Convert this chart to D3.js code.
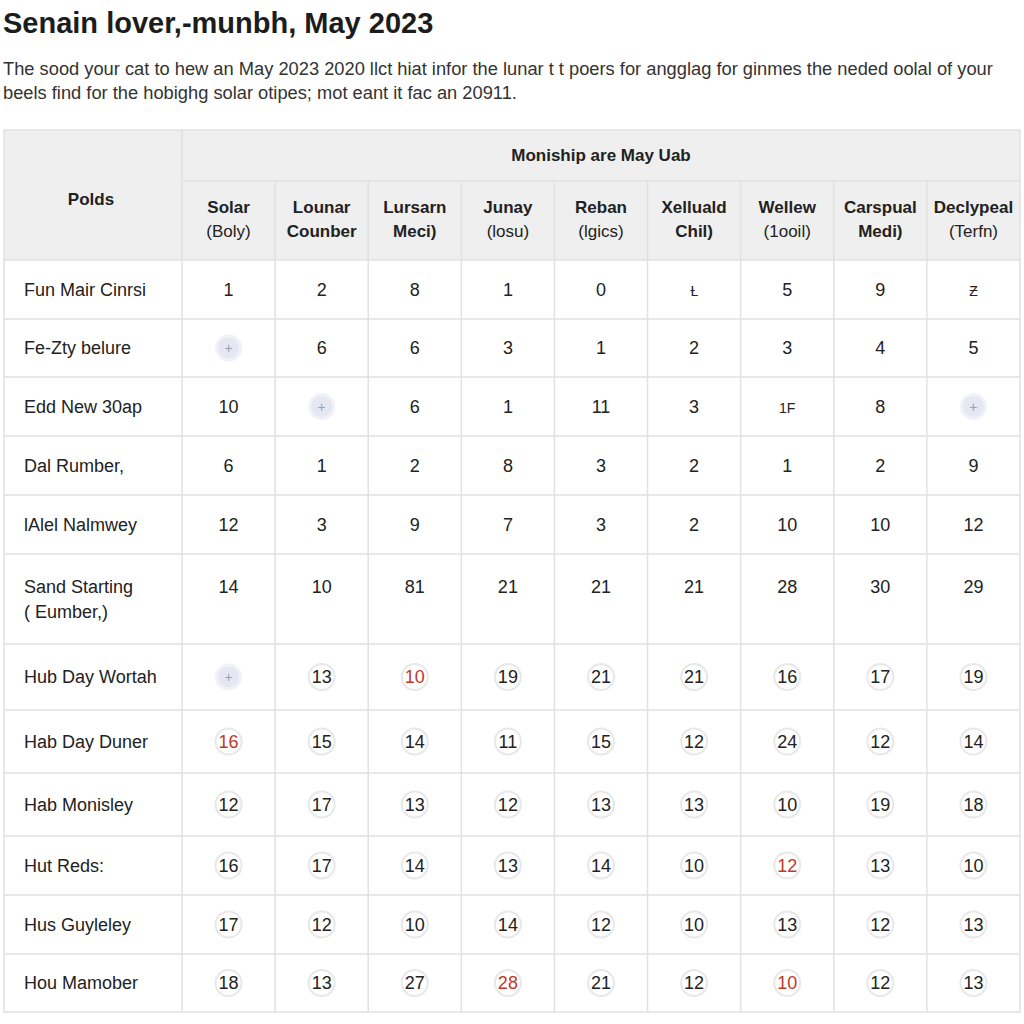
<!DOCTYPE html>
<html>
<head>
<meta charset="utf-8">
<script src="https://cdn.jsdelivr.net/npm/d3@7"></script>
<style>
  html, body { margin: 0; padding: 0; background: #fff; }
  svg { display: block; font-family: "Liberation Sans", Arial, sans-serif; }
</style>
</head>
<body>
<svg id="chart" width="1024" height="1024"></svg>
<script>
// ---- data ----
const title = 'Senain lover,-munbh, May 2023';
const subtitleLines = [
    'The sood your cat to hew an May 2023 2020 llct hiat infor the lunar t t poers for angglag for ginmes the neded oolal of your',
    'beels find for the hobighg solar otipes; mot eant it fac an 20911.'
];
const groupHeader = 'Moniship are May Uab';
const rowHeader = 'Polds';
const columns = [
    ['Solar', '(Boly)'],
    ['Lounar', 'Counber'],
    ['Lursarn', 'Meci)'],
    ['Junay', '(losu)'],
    ['Reban', '(lgics)'],
    ['Xelluald', 'Chil)'],
    ['Wellew', '(1ooil)'],
    ['Carspual', 'Medi)'],
    ['Declypeal', '(Terfn)']
];
const rowLabels = [
    ['Fun Mair Cinrsi'],
    ['Fe-Zty belure'],
    ['Edd New 30ap'],
    ['Dal Rumber,'],
    ['lAlel Nalmwey'],
    ['Sand Starting', '( Eumber,)'],
    ['Hub Day Wortah'],
    ['Hab Day Duner'],
    ['Hab Monisley'],
    ['Hut Reds:'],
    ['Hus Guyleley'],
    ['Hou Mamober']
];
// null = smudged mark in the source
const values = [
    [1, 2, 8, 1, 0, 'Ɫ', 5, 9, 'Ƶ'],
    [null, 6, 6, 3, 1, 2, 3, 4, 5],
    [10, null, 6, 1, 11, 3, '1F', 8, null],
    [6, 1, 2, 8, 3, 2, 1, 2, 9],
    [12, 3, 9, 7, 3, 2, 10, 10, 12],
    [14, 10, 81, 21, 21, 21, 28, 30, 29],
    [null, 13, 10, 19, 21, 21, 16, 17, 19],
    [16, 15, 14, 11, 15, 12, 24, 12, 14],
    [12, 17, 13, 12, 13, 13, 10, 19, 18],
    [16, 17, 14, 13, 14, 10, 12, 13, 10],
    [17, 12, 10, 14, 12, 10, 13, 12, 13],
    [18, 13, 27, 28, 21, 12, 10, 12, 13]
];
const circledFrom = 6; // rows from here on show values in badges
const redCells = [[6, 2], [7, 0], [9, 6], [11, 3], [11, 6]];

// ---- layout ----
const table = { left: 4, right: 1020, top: 130, sub: 181, head: 260 };
const labelColRight = 182;
const rowHeights = [59, 58, 59, 59, 59, 90, 66, 63, 63, 59, 59, 58];

const svg = d3.select('#chart');

const x = d3.scaleBand()
    .domain(d3.range(columns.length))
    .range([labelColRight, table.right]);

let acc = table.head;
const rowTops = rowHeights.map(function (h) { const t = acc; acc += h; return t; });
const tableBottom = acc;

const gridColor = '#e1e1e1';
const textColor = '#222';

// title + subtitle
svg.append('text')
    .attr('x', 3).attr('y', 33)
    .attr('font-size', 29).attr('font-weight', 'bold')
    .attr('fill', '#1c1c1c')
    .text(title);

svg.selectAll('text.sub')
    .data(subtitleLines)
    .enter().append('text')
    .attr('class', 'sub')
    .attr('x', 3)
    .attr('y', function (d, i) { return 75 + i * 24; })
    .attr('font-size', 18.3)
    .attr('fill', '#333')
    .text(function (d) { return d; });

// header background
svg.append('rect')
    .attr('x', table.left).attr('y', table.top)
    .attr('width', table.right - table.left)
    .attr('height', table.head - table.top)
    .attr('fill', '#efefef');

// grid
const grid = svg.append('g').attr('stroke', gridColor).attr('stroke-width', 1.5).attr('fill', 'none');
grid.append('rect')
    .attr('x', table.left).attr('y', table.top)
    .attr('width', table.right - table.left)
    .attr('height', tableBottom - table.top);
grid.append('line')
    .attr('x1', labelColRight).attr('x2', labelColRight)
    .attr('y1', table.top).attr('y2', tableBottom);
grid.append('line')
    .attr('x1', labelColRight).attr('x2', table.right)
    .attr('y1', table.sub).attr('y2', table.sub);
grid.selectAll('line.col')
    .data(d3.range(1, columns.length))
    .enter().append('line')
    .attr('class', 'col')
    .attr('x1', function (d) { return x(d); })
    .attr('x2', function (d) { return x(d); })
    .attr('y1', table.sub).attr('y2', tableBottom);
grid.selectAll('line.row')
    .data(rowTops)
    .enter().append('line')
    .attr('class', 'row')
    .attr('x1', table.left).attr('x2', table.right)
    .attr('y1', function (d) { return d; })
    .attr('y2', function (d) { return d; });

// header text
svg.append('text')
    .attr('x', (labelColRight + table.right) / 2).attr('y', 161)
    .attr('text-anchor', 'middle')
    .attr('font-size', 17).attr('font-weight', 'bold').attr('fill', textColor)
    .text(groupHeader);
svg.append('text')
    .attr('x', (table.left + labelColRight) / 2 - 2).attr('y', 205)
    .attr('text-anchor', 'middle')
    .attr('font-size', 17).attr('font-weight', 'bold').attr('fill', textColor)
    .text(rowHeader);

const colHead = svg.selectAll('g.colhead')
    .data(columns)
    .enter().append('g')
    .attr('class', 'colhead')
    .attr('transform', function (d, i) { return 'translate(' + (x(i) + x.bandwidth() / 2) + ',0)'; });
colHead.selectAll('text')
    .data(function (d) { return d; })
    .enter().append('text')
    .attr('y', function (d, i) { return 213 + i * 24; })
    .attr('text-anchor', 'middle')
    .attr('font-size', 17)
    .attr('font-weight', function (d, i) { return i === 0 || d[0] !== '(' ? 'bold' : 'normal'; })
    .attr('fill', textColor)
    .text(function (d) { return d; });

// row labels
const rows = svg.selectAll('g.row')
    .data(values)
    .enter().append('g')
    .attr('class', 'row')
    .attr('transform', function (d, i) { return 'translate(0,' + rowTops[i] + ')'; });

function textY(i) {
    return rowLabels[i].length > 1 ? 39 : rowHeights[i] / 2 + 6;
}

rows.each(function (rowVals, ri) {
    const g = d3.select(this);
    g.selectAll('text.label')
        .data(rowLabels[ri])
        .enter().append('text')
        .attr('class', 'label')
        .attr('x', 24)
        .attr('y', function (d, k) { return textY(ri) + k * 25; })
        .attr('font-size', 18)
        .attr('fill', textColor)
        .text(function (d) { return d; });

    const cy = textY(ri) - 6;
    const cells = g.selectAll('g.cell')
        .data(rowVals)
        .enter().append('g')
        .attr('class', 'cell')
        .attr('transform', function (d, ci) { return 'translate(' + (x(ci) + x.bandwidth() / 2) + ',' + cy + ')'; });

    cells.each(function (v, ci) {
        const c = d3.select(this);
        const red = redCells.some(function (p) { return p[0] === ri && p[1] === ci; });
        if (v === null) {
            c.append('circle').attr('r', 12)
                .attr('fill', '#dfe3ef').attr('stroke', '#eef0f6').attr('stroke-width', 3)
                .attr('opacity', 0.8);
            c.append('text').attr('y', 5).attr('text-anchor', 'middle')
                .attr('font-size', 14).attr('fill', '#9aa2bb').text('+');
            return;
        }
        if (ri >= circledFrom) {
            c.append('circle').attr('r', 13)
                .attr('fill', '#fff').attr('stroke', '#e8e8e8').attr('stroke-width', 2);
        }
        c.append('text')
            .attr('y', 6)
            .attr('text-anchor', 'middle')
            .attr('font-size', typeof v === 'string' ? 14 : 18)
            .attr('fill', red ? '#c0392b' : textColor)
            .text(v);
    });
});
</script>
</body>
</html>
